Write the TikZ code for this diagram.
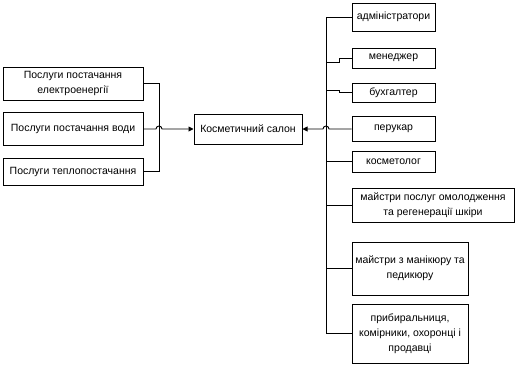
\documentclass[tikz,border=0pt]{standalone}
\usepackage{fontspec}
\setmainfont{Liberation Sans}
\usetikzlibrary{arrows.meta}
\begin{document}
\begin{tikzpicture}[x=1pt,y=-1pt,
  box/.style={draw, line width=1pt, inner sep=0pt, align=center, font=\fontsize{10.5}{15}\selectfont},
  conn/.style={line width=0.9pt},
  arr/.style={conn,-{Triangle[length=5pt,width=5pt]}}]
\useasboundingbox (0,0) rectangle (519,370);
% left boxes
\node[box, minimum width=140pt, minimum height=33pt] (b1) at (73,83.5) {Послуги постачання\\електроенергії};
\node[box, minimum width=140pt, minimum height=33pt] (b2) at (73,129) {Послуги постачання води};
\node[box, minimum width=140pt, minimum height=27pt] (b3) at (73,171.5) {Послуги теплопостачання};
% centre
\node[box, minimum width=108pt, minimum height=30pt] (c) at (248,129) {Косметичний салон};
% right boxes
\node[box, minimum width=83pt, minimum height=28pt] (r1) at (393.5,17) {адміністратори};
\node[box, minimum width=83pt, minimum height=20pt] (r2) at (393.5,58) {менеджер};
\node[box, minimum width=83pt, minimum height=19pt] (r3) at (393.5,92.5) {бухгалтер};
\node[box, minimum width=83pt, minimum height=25pt] (r4) at (393.5,129) {перукар};
\node[box, minimum width=83pt, minimum height=21pt] (r5) at (393.5,161.5) {косметолог};
\node[box, minimum width=162pt, minimum height=34pt] (r6) at (433,205) {майстри послуг омолодження\\та регенерації шкіри};
\node[box, minimum width=116pt, minimum height=53pt] (r7) at (410,268.5) {майстри з манікюру та\\педикюру};
\node[box, minimum width=116pt, minimum height=59pt] (r8) at (410,333.5) {прибиральниця,\\комірники, охоронці і\\продавці};
% left bus
\coordinate (lt) at (159,83.5);
\coordinate (lb) at (159,171.5);
\draw[conn] (b1.east) -- (lt) -- (lb) -- (b3.east);
\draw[arr] (b2.east) -- (156,129) arc[start angle=180, end angle=0, radius=3pt] -- (c.west);
% right bus
\coordinate (rt) at (326,17);
\coordinate (rb) at (326,333.5);
\draw[conn] (r1.west) -- (rt) -- (rb) -- (r8.west);
\draw[conn] (r2.west) -- (339,58) -- (339,62) -- (326,62);
\draw[conn] (r3.west) -- (339,92.5) -- (339,90) -- (326,90);
\draw[arr] (r4.west) -- (329,129) arc[start angle=0, end angle=180, radius=3pt] -- (c.east);
\draw[conn] (r5.west) -- (326,161.5);
\draw[conn] (r6.west) -- (326,205);
\draw[conn] (r7.west) -- (326,268.5);
\end{tikzpicture}
\end{document}
